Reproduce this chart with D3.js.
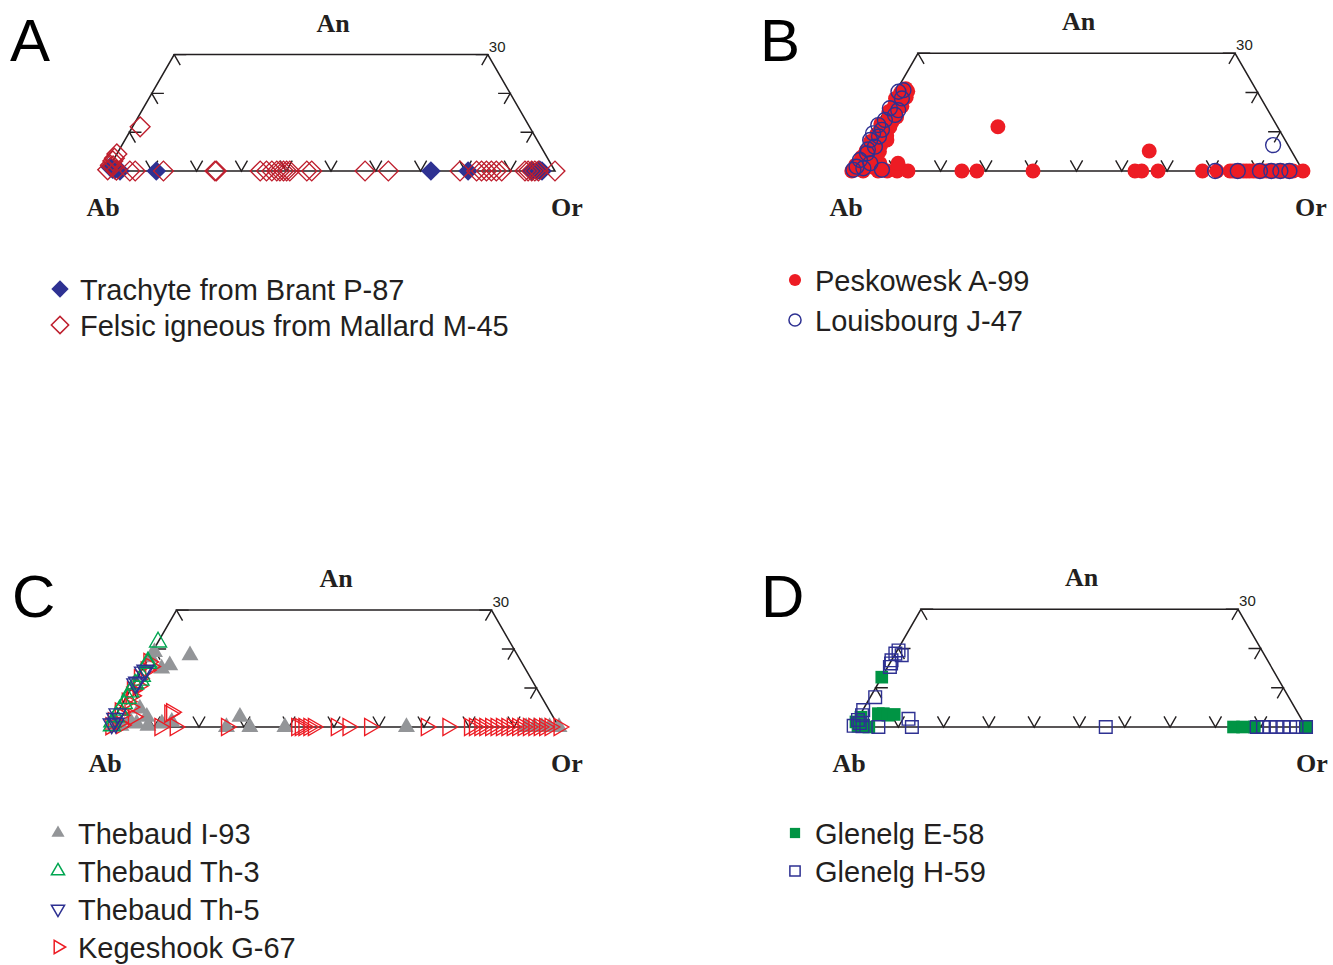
<!DOCTYPE html>
<html>
<head>
<meta charset="utf-8">
<script src="https://cdn.jsdelivr.net/npm/d3@7"></script>
<style>
  body { margin: 0; background: #fff; }
</style>
</head>
<body>
<div id="chart"></div>
<script>
// feldspar compositions, each point is [Or, An] in mol % (Ab = 100 - Or - An)
const brantP87 = [[0.2,1],[1.6,0.3],[2.9,0],[1,0.5],[11,0],[72.3,0],[80.6,0],[94.9,0],[96,0],[97.1,0],[96.5,0.2]];
const mallardM45 = [[0,4.4],[0,3.3],[0,2.6],[0,1.5],[0,0.3],[0.7,1.3],[2,0.2],[1.7,11.4],[5.1,0],[6.3,0],[12.6,0],
  [24.1,0],[24.4,0],[34.2,0],[35.6,0],[36.8,0],[37.9,0],[38.6,0],[39.4,0],[40.1,0],[40.8,0],[44.6,0],[45.7,0],
  [57.6,0],[62.8,0],[78.8,0],[82.5,0],[83.6,0],[84.7,0],[85.8,0],[86.9,0],[88.1,0],[93.3,0],[94,0],[94.8,0],
  [95.5,0],[96.3,0],[100,0]];

const peskowesk = [[0.4,0],[2.9,0],[6.2,0],[8.2,0],[10.4,0],[12.8,0],[5.6,2],[9.6,2],[1,0.5],[0.5,1.5],[1.5,2.5],
  [0.8,3.5],[2.2,4],[1,5],[2.8,5.5],[1.5,6.5],[4.2,7.9],[0.8,7.5],[2.5,8.5],[1.2,9.5],[3,10],[2,11],[0.8,12],
  [3,12.5],[1.8,13.5],[2.6,14.5],[1,15.2],[2.2,16],[1.4,17],[2.6,17.5],[0.8,18.5],[2,19],[1.2,20],[1.8,21],
  [3.5,6.5],[3.8,3],[3.2,11.2],[3.4,13.8],[3.2,16.5],[3,18.8],[2.6,20.3],[4.5,1],[3.6,9],[4,5],
  [24.7,0],[28,0],[40.4,0],[62.9,0],[64.4,0],[68,0],[77.8,0],[81,0],[83.9,0],[84.6,0],[85.3,0],[86,0],[86.8,0],
  [87.5,0],[88.2,0],[89,0],[89.7,0],[90.5,0],[91.2,0],[92,0],[92.7,0],[93.5,0],[94.2,0],[95,0],[95.7,0],[96.5,0],
  [97.2,0],[97.8,0],[100,0],[27,11.3],[63.5,5.1]];
const louisbourg = [[0.6,20.2],[1.5,20.6],[2.2,18.5],[2.9,15.5],[2.8,14.3],[1.2,13],[0.8,16],[0.4,11.7],[0.3,9.6],
  [0.5,7.9],[2.4,6.2],[1.5,4.5],[0.8,2.8],[0.9,1.1],[2.6,0.7],[0.6,0.3],[6.9,0.3],[90.1,6.6],[80.6,0],[85.6,0],
  [90.5,0],[93,0],[95,0],[97,0],[1.8,10.5],[2,8.8],[1.2,5.5],[3.5,2]];

const thebaudI93 = [[8.8,18.4],[5.6,15.8],[4.2,15],[0.3,17.9],[0.5,19.2],[4.5,4.7],[7.1,2.6],[11.3,0.9],[13.3,1.3],
  [3.8,1.7],[5.7,0.9],[1,0.5],[2.5,0.3],[26.1,0],[27.8,2.6],[31.3,0],[39.1,0],[66.1,0],[92.7,0],[94.5,0],
  [96.2,0],[97.9,0],[100,0],[8.5,0.3]];
const thebaudTh3 = [[0,21.8],[0.3,16.7],[0.5,16.3],[0.8,13],[0.3,11],[0.2,9],[0.5,7.3],[0.3,6],[0.2,4.3],[0.2,2.6],
  [0.1,1.3],[0.5,0.3],[1,12]];
const thebaudTh5 = [[0.5,14.1],[0.8,14.6],[0.3,11.1],[0.5,11.5],[0.2,3.4],[0.3,2.2],[0.2,0.8],[1,1]];
const kegeshook = [[0.5,16.7],[1,14.5],[1.5,15.5],[0.5,12.5],[1.2,10.5],[0.5,9.4],[1,8],[0.8,6.5],[2.1,5.1],
  [4.1,2.6],[0.5,4],[1,3],[0.2,1.5],[1.5,1],[0.3,0.2],[2.5,0.5],[12,3.8],[11.3,0],[14.7,0],[11.8,3.4],[26.1,0],
  [41.7,0],[42.5,0],[43.3,0],[44.4,0],[45.4,0],[50.5,0],[53.1,0],[57.9,0],[70.5,0],[75.3,0],[80.1,0],[81.2,0],
  [82.4,0],[83.5,0],[84.8,0],[86,0],[87.2,0],[88.4,0],[89.6,0],[90.8,0],[92,0],[93.2,0],[94.4,0],[95.6,0],
  [96.8,0],[98,0],[100,0]];

const glenelgE58 = [[0,12.7],[3.9,3.4],[5,3.4],[6.2,3],[7.5,3.2],[0,1.3],[2.1,0.5],[1,0.2],[3.5,0],[0.5,2.5],
  [84,0],[86,0],[88.6,0],[100,0]];
const glenelgH59 = [[0.3,19.5],[0,18.7],[1.6,18.3],[0,17],[0.3,16.2],[0.5,15.3],[1.1,7.6],[0.1,4.3],[0.5,3],
  [0.2,1.8],[0,0.3],[5.6,0],[11.2,2.1],[13,0],[55.8,0],[89.1,0],[90.5,0],[92,0],[93.5,0],[95,0],[96.5,0],
  [97.9,0],[100,0],[1,1],[2,0.2]];

const baseTicks = [10, 20, 30, 40, 50, 60, 70, 80, 90];
const sideTicks = [10, 20, 30];
const anMax = 30;

const ink = '#231f20';
const W = 1333, H = 965;

const panels = [
  { letter: 'A', letterX: 10, abX: 107, baseY: 171, w: 448, orDx: 12, lx: 60, tx: 80, ly: 289, dy: 36,
    series: [
      { name: 'Trachyte from Brant P-87', data: brantP87, shape: 'diamond', color: '#2e3192', filled: true },
      { name: 'Felsic igneous from Mallard M-45', data: mallardM45, shape: 'diamond', color: '#be1e2d', filled: false }
    ] },
  { letter: 'B', letterX: 760, abX: 850, baseY: 171, w: 453, orDx: 8, lx: 795, tx: 815, ly: 280, dy: 40,
    series: [
      { name: 'Peskowesk A-99', data: peskowesk, shape: 'circle', color: '#ed1c24', filled: true },
      { name: 'Louisbourg J-47', data: louisbourg, shape: 'circle', color: '#2e3192', filled: false }
    ] },
  { letter: 'C', letterX: 12, abX: 109, baseY: 727, w: 450, orDx: 8, lx: 58, tx: 78, ly: 833, dy: 38,
    series: [
      { name: 'Thebaud I-93', data: thebaudI93, shape: 'triUp', color: '#939598', filled: true },
      { name: 'Kegeshook G-67', data: kegeshook, shape: 'triRight', color: '#ed1c24', filled: false, legendRow: 3 },
      { name: 'Thebaud Th-3', data: thebaudTh3, shape: 'triUp', color: '#00a651', filled: false, legendRow: 1 },
      { name: 'Thebaud Th-5', data: thebaudTh5, shape: 'triDown', color: '#2e3192', filled: false, legendRow: 2 }
    ] },
  { letter: 'D', letterX: 761, abX: 853, baseY: 727, w: 453, orDx: 6, lx: 795, tx: 815, ly: 833, dy: 38,
    series: [
      { name: 'Glenelg E-58', data: glenelgE58, shape: 'square', color: '#009444', filled: true },
      { name: 'Glenelg H-59', data: glenelgH59, shape: 'square', color: '#2e3192', filled: false }
    ] }
];

const svg = d3.select('#chart').append('svg')
  .attr('width', W)
  .attr('height', H);

function symbolPath(shape, size) {
  if (shape === 'circle') return d3.symbol(d3.symbolCircle, size)();
  if (shape === 'square' || shape === 'diamond') return d3.symbol(d3.symbolSquare, size)();
  return d3.symbol(d3.symbolTriangle, size)();
}
function symbolRotate(shape) {
  return { diamond: 45, triDown: 180, triRight: 90 }[shape] || 0;
}
const markerSize = { diamond: 195, circle: 175, triUp: 125, triDown: 125, triRight: 125, square: 160 };
const legendSize = { diamond: 150, circle: 115, triUp: 75, triDown: 75, triRight: 75, square: 105 };

panels.forEach(p => {
  // ternary projection: horizontal = Or + An/2, vertical = An
  const xs = d3.scaleLinear().domain([0, 100]).range([p.abX, p.abX + p.w]);
  const ys = d3.scaleLinear().domain([0, 100]).range([p.baseY, p.baseY - p.w * Math.sqrt(3) / 2]);
  const px = (or, an) => xs(or + an / 2);
  const py = (or, an) => ys(an);

  const g = svg.append('g').attr('class', 'panel-' + p.letter);

  // outline of the An <= 30 part of the triangle
  const corners = [[0, 0], [100, 0], [100 - anMax, anMax], [0, anMax]];
  g.append('path')
    .attr('d', d3.line().x(d => px(d[0], d[1])).y(d => py(d[0], d[1]))(corners) + 'Z')
    .attr('fill', 'none')
    .attr('stroke', ink)
    .attr('stroke-width', 1.5);

  // tick chevrons, drawn along the two grid directions pointing inward
  const t = 2.7;
  const ticks = [];
  baseTicks.forEach(v => {
    ticks.push([[v - t, t], [v, 0], [v, t]]);
  });
  sideTicks.forEach(v => {
    ticks.push([[t, v], [0, v], [t, v - t]]);
    ticks.push([[100 - v - t, v], [100 - v, v], [100 - v, v - t]]);
  });
  g.selectAll('.tick')
    .data(ticks)
    .join('path')
    .attr('class', 'tick')
    .attr('d', d => d3.line().x(c => px(c[0], c[1])).y(c => py(c[0], c[1]))(d))
    .attr('fill', 'none')
    .attr('stroke', ink)
    .attr('stroke-width', 1.4);

  // data points
  p.series.forEach(s => {
    g.append('g').selectAll('path')
      .data(s.data)
      .join('path')
      .attr('d', symbolPath(s.shape, markerSize[s.shape]))
      .attr('transform', d => `translate(${px(d[0], d[1])},${py(d[0], d[1])}) rotate(${symbolRotate(s.shape)})`)
      .attr('fill', s.filled ? s.color : 'none')
      .attr('stroke', s.filled ? 'none' : s.color)
      .attr('stroke-width', 1.4);
  });

  // vertex labels
  const top = py(0, anMax);
  const serif = '"Liberation Serif", "Times New Roman", serif';
  g.append('text')
    .attr('x', (xs(0) + xs(100)) / 2 + 2)
    .attr('y', top - 23)
    .attr('text-anchor', 'middle')
    .style('font-family', serif)
    .style('font-weight', 700)
    .style('font-size', '26px')
    .attr('fill', ink)
    .text('An');
  g.append('text')
    .attr('x', xs(0) - 4)
    .attr('y', p.baseY + 45)
    .attr('text-anchor', 'middle')
    .style('font-family', serif)
    .style('font-weight', 700)
    .style('font-size', '26px')
    .attr('fill', ink)
    .text('Ab');
  g.append('text')
    .attr('x', xs(100) + p.orDx)
    .attr('y', p.baseY + 45)
    .attr('text-anchor', 'middle')
    .style('font-family', serif)
    .style('font-weight', 700)
    .style('font-size', '26px')
    .attr('fill', ink)
    .text('Or');
  g.append('text')
    .attr('x', px(100 - anMax, anMax) + 1)
    .attr('y', top - 3)
    .style('font-family', 'Arial, "Liberation Sans", sans-serif')
    .style('font-size', '15px')
    .attr('fill', ink)
    .text(anMax);

  // panel letter
  g.append('text')
    .attr('x', p.letterX)
    .attr('y', p.baseY - 110)
    .style('font-family', 'Arial, "Liberation Sans", sans-serif')
    .style('font-size', '60px')
    .attr('fill', '#000')
    .text(p.letter);

  // legend
  const legend = g.append('g').attr('class', 'legend');
  p.series.forEach((s, i) => {
    const row = s.legendRow !== undefined ? s.legendRow : i;
    const cy = p.ly + row * p.dy;
    legend.append('path')
      .attr('d', symbolPath(s.shape, legendSize[s.shape]))
      .attr('transform', `translate(${p.lx},${cy}) rotate(${symbolRotate(s.shape)})`)
      .attr('fill', s.filled ? s.color : 'none')
      .attr('stroke', s.filled ? 'none' : s.color)
      .attr('stroke-width', 1.5);
    legend.append('text')
      .attr('x', p.tx)
      .attr('y', cy + 10.5)
      .style('font-family', 'Arial, "Liberation Sans", sans-serif')
      .style('font-size', '29px')
      .attr('fill', ink)
      .text(s.name);
  });
});
</script>
</body>
</html>
